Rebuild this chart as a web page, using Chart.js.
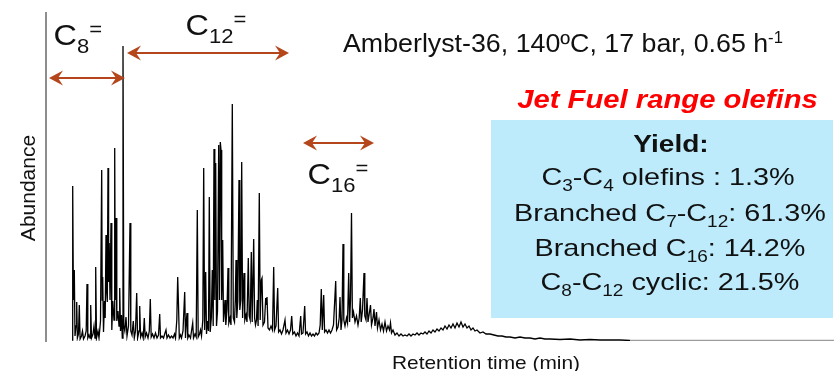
<!DOCTYPE html>
<html>
<head>
<meta charset="utf-8">
<script src="https://cdn.jsdelivr.net/npm/chart.js@4.4.1/dist/chart.umd.min.js"></script>
<style>
  html, body { margin: 0; padding: 0; background: #fff; }
  #wrap { width: 835px; height: 371px; }
</style>
</head>
<body>
<div id="wrap"><canvas id="gc" width="835" height="371"></canvas></div>
<script>
// GC-FID trace of the oligomerised olefin product (retention time in min, abundance in arbitrary counts)
const retentionTime = [
  2.50, 2.57, 2.64, 2.73, 2.80, 2.90, 2.97, 3.04, 3.15, 3.23, 3.31, 3.45, 3.55, 3.65, 3.80, 3.92, 4.00, 4.08, 4.20, 4.30,
  4.37, 4.45, 4.60, 4.70, 4.80, 4.87, 4.95, 5.10, 5.20, 5.35, 5.47, 5.52, 5.57, 5.65, 5.75, 5.82, 5.90, 5.96, 6.03, 6.10,
  6.16, 6.22, 6.30, 6.40, 6.48, 6.58, 6.70, 6.77, 6.83, 6.90, 6.98, 7.10, 7.20, 7.27, 7.35, 7.45, 7.53, 7.60, 7.68, 7.78,
  7.90, 8.00, 8.15, 8.30, 8.38, 8.50, 8.63, 8.73, 8.85, 8.97, 9.06, 9.20, 9.27, 9.36, 9.50, 9.62, 9.73, 9.82, 9.95, 10.10,
  10.23, 10.33, 10.42, 10.55, 10.70, 10.85, 11.00, 11.15, 11.27, 11.35, 11.50, 11.65, 11.80, 11.90, 12.00, 12.15, 12.30, 12.45, 12.60, 12.75,
  12.85, 12.98, 13.07, 13.15, 13.23, 13.35, 13.45, 13.60, 13.77, 13.85, 13.93, 14.00, 14.08, 14.20, 14.35, 14.45, 14.57, 14.65, 14.80, 14.92,
  15.03, 15.12, 15.25, 15.35, 15.45, 15.58, 15.67, 15.76, 15.87, 15.95, 16.05, 16.15, 16.23, 16.32, 16.43, 16.53, 16.62, 16.70, 16.78, 16.87,
  16.95, 17.05, 17.17, 17.25, 17.33, 17.40, 17.47, 17.57, 17.65, 17.80, 17.88, 18.00, 18.10, 18.18, 18.30, 18.40, 18.53, 18.63, 18.75, 18.83,
  18.90, 18.98, 19.08, 19.20, 19.28, 19.38, 19.47, 19.56, 19.63, 19.70, 19.78, 19.90, 20.00, 20.13, 20.22, 20.32, 20.43, 20.52, 20.67, 20.76,
  20.85, 20.95, 21.03, 21.11, 21.23, 21.32, 21.43, 21.50, 21.60, 21.75, 21.87, 21.94, 22.00, 22.10, 22.25, 22.40, 22.55, 22.67, 22.76, 22.90,
  23.07, 23.16, 23.30, 23.45, 23.60, 23.80, 23.90, 24.05, 24.20, 24.35, 24.47, 24.58, 24.75, 24.90, 25.05, 25.20, 25.37, 25.45, 25.60, 25.77,
  25.86, 26.00, 26.15, 26.30, 26.45, 26.60, 26.75, 26.90, 27.05, 27.20, 27.32, 27.43, 27.53, 27.67, 27.76, 27.90, 28.05, 28.20, 28.35, 28.50,
  28.65, 28.87, 28.96, 29.10, 29.22, 29.30, 29.40, 29.50, 29.60, 29.68, 29.80, 29.95, 30.05, 30.17, 30.26, 30.35, 30.45, 30.54, 30.65, 30.80,
  30.95, 31.10, 31.22, 31.33, 31.42, 31.55, 31.70, 31.78, 31.90, 32.00, 32.10, 32.25, 32.35, 32.45, 32.60, 32.70, 32.80, 32.95, 33.05, 33.20,
  33.35, 33.50, 33.65, 33.80, 33.95, 34.10, 34.25, 34.35, 34.45, 34.60, 34.80, 35.00, 35.20, 35.40, 35.60, 35.80, 36.00, 36.20, 36.40, 36.60,
  36.80, 37.00, 37.20, 37.40, 37.60, 37.80, 38.00, 38.20, 38.40, 38.60, 38.80, 39.00, 39.20, 39.40, 39.60, 39.80, 40.00, 40.20, 40.40, 40.60,
  40.80, 41.00, 41.20, 41.40, 41.60, 41.80, 42.00, 42.20, 42.40, 42.60, 42.80, 43.00, 43.30, 43.60, 43.90, 44.30, 44.70, 45.10, 45.50, 45.90,
  46.30, 46.80, 47.30, 47.80, 48.30, 48.80, 49.30, 49.80, 50.30, 51.30, 52.30, 53.30, 54.30, 55.30, 56.30, 57.30, 58.30
];
const abundance = [
  1, 155, 41, 71, 5, 15, 39, 3, 7, 36, 2, 5, 10, 2, 5, 10, 57, 3, 6, 3,
  36, 3, 7, 15, 3, 74, 3, 10, 3, 20, 171, 41, 64, 9, 40, 23, 106, 51, 39, 173,
  59, 98, 41, 118, 11, 40, 21, 193, 41, 123, 20, 30, 15, 53, 10, 26, 3, 295, 15, 10,
  24, 5, 15, 118, 10, 6, 20, 3, 10, 48, 3, 10, 35, 4, 8, 3, 23, 4, 8, 3,
  10, 42, 4, 7, 3, 8, 3, 6, 27, 3, 5, 3, 8, 11, 3, 6, 3, 5, 3, 7,
  3, 21, 64, 36, 3, 6, 3, 10, 49, 3, 20, 28, 3, 6, 3, 10, 18, 3, 7, 4,
  131, 4, 7, 11, 5, 21, 173, 11, 69, 7, 20, 10, 144, 9, 23, 71, 15, 192, 41, 178,
  15, 30, 196, 41, 199, 191, 41, 101, 19, 41, 16, 31, 73, 18, 23, 16, 237, 23, 19, 41,
  81, 23, 40, 161, 31, 41, 179, 23, 51, 68, 21, 26, 19, 83, 25, 21, 89, 19, 102, 23,
  16, 21, 41, 15, 148, 21, 61, 63, 16, 19, 43, 36, 44, 13, 11, 15, 11, 74, 11, 15,
  53, 9, 11, 7, 11, 21, 8, 11, 7, 11, 25, 7, 9, 5, 8, 5, 25, 7, 8, 35,
  7, 9, 5, 8, 5, 7, 5, 8, 6, 8, 16, 52, 11, 46, 9, 11, 8, 11, 8, 11,
  16, 60, 11, 14, 23, 44, 11, 21, 97, 21, 15, 23, 18, 68, 19, 41, 128, 23, 29, 19,
  25, 16, 23, 43, 19, 31, 68, 25, 21, 43, 19, 29, 36, 16, 23, 32, 15, 29, 13, 21,
  11, 17, 10, 19, 10, 15, 11, 18, 8, 11, 6, 8, 5, 7, 5, 6, 5, 7, 5, 7,
  6, 8, 6, 8, 7, 9, 7, 10, 8, 11, 9, 12, 10, 13, 11, 15, 12, 16, 13, 17,
  13, 18, 14, 19, 14, 17, 13, 15, 11, 13, 10, 11, 8, 9, 7, 7, 6, 5, 5, 4,
  4, 3, 4, 3, 3, 2, 3, 2, 2, 1.5, 2, 1, 1.5, 1, 1, 1, 0.5
];
// flat detector baseline at the end of the run
const tailTime = [58.30, 78.70];
const tailAbundance = [0.5, 0.5];

const FAMILY = '"Liberation Sans", Arial, Helvetica, sans-serif';
const ARROW_COLOR = '#B5451B';

// split "C_{3}-C_{4}" style strings into normal / subscript / superscript runs
function parseRuns(str) {
  const out = [];
  const re = /([_^])\{([^}]*)\}/g;
  let last = 0, m;
  while ((m = re.exec(str)) !== null) {
    if (m.index > last) out.push({ t: str.slice(last, m.index) });
    out.push({ t: m[2], sub: m[1] === '_', sup: m[1] === '^' });
    last = re.lastIndex;
  }
  if (last < str.length) out.push({ t: str.slice(last) });
  return out;
}

function drawRich(ctx, str, x, y, o) {
  const runs = parseRuns(str);
  const small = o.small || 0.66;
  const fontOf = r => `${o.style || 'normal'} ${o.weight || 'normal'} ${(r.sub || r.sup) ? o.size * small : o.size}px ${FAMILY}`;
  ctx.save();
  ctx.translate(x, y);
  if (o.rotate) ctx.rotate(o.rotate);
  ctx.scale(o.sx || 1, 1);
  ctx.fillStyle = o.color || '#111';
  ctx.textBaseline = 'alphabetic';
  ctx.textAlign = 'left';
  let total = 0;
  const widths = runs.map(r => { ctx.font = fontOf(r); const w = ctx.measureText(r.t).width; total += w; return w; });
  let cx = o.align === 'center' ? -total / 2 : 0;
  runs.forEach((r, i) => {
    ctx.font = fontOf(r);
    const dy = r.sub ? o.size * (o.subDy || 0.27) : r.sup ? -o.size * (o.supDy || 0.33) : 0;
    ctx.fillText(r.t, cx, dy);
    cx += widths[i];
  });
  ctx.restore();
}

function arrowHead(ctx, tipX, y, dir) {
  const L = 14, W = 7.5, N = 9;
  ctx.beginPath();
  ctx.moveTo(tipX, y);
  ctx.lineTo(tipX + dir * L, y - W);
  ctx.lineTo(tipX + dir * N, y);
  ctx.lineTo(tipX + dir * L, y + W);
  ctx.closePath();
  ctx.fill();
}

function doubleArrow(ctx, x1, x2, y) {
  ctx.save();
  ctx.strokeStyle = ARROW_COLOR;
  ctx.fillStyle = ARROW_COLOR;
  ctx.lineWidth = 2.2;
  ctx.beginPath();
  ctx.moveTo(x1 + 8, y);
  ctx.lineTo(x2 - 8, y);
  ctx.stroke();
  arrowHead(ctx, x1, y, 1);
  arrowHead(ctx, x2, y, -1);
  ctx.restore();
}

const annotations = {
  id: 'annotations',
  afterDraw(chart) {
    const ctx = chart.ctx;
    // carbon-number windows
    doubleArrow(ctx, 49, 125, 78);
    doubleArrow(ctx, 127, 289, 53);
    doubleArrow(ctx, 303, 374, 143);
    const cLab = { size: 30, sx: 1.08, small: 0.68, subDy: 0.27, supDy: 0.3 };
    drawRich(ctx, 'C_{8}^{=}', 53.5, 45, cLab);
    drawRich(ctx, 'C_{12}^{=}', 185.5, 35, cLab);
    drawRich(ctx, 'C_{16}^{=}', 307.5, 184, cLab);

    // reaction conditions
    drawRich(ctx, 'Amberlyst-36, 140ºC, 17 bar, 0.65 h^{-1}', 343, 52, { size: 26, sx: 1.03, small: 0.62, supDy: 0.36 });

    drawRich(ctx, 'Jet Fuel range olefins', 667.5, 108, { size: 26, sx: 1.125, weight: 'bold', style: 'italic', color: '#FF0000', align: 'center' });

    // yield box
    ctx.save();
    ctx.fillStyle = '#BDEBFB';
    ctx.fillRect(491, 120, 342, 198);
    ctx.restore();
    const yl = { size: 24, sx: 1.2, align: 'center', small: 0.66, subDy: 0.27 };
    drawRich(ctx, 'Yield:', 671, 152, { size: 24, sx: 1.17, weight: 'bold', align: 'center' });
    drawRich(ctx, 'C_{3}-C_{4} olefins : 1.3%', 668, 185, yl);
    drawRich(ctx, 'Branched C_{7}-C_{12}: 61.3%', 670, 221, yl);
    drawRich(ctx, 'Branched C_{16}: 14.2%', 670, 256, yl);
    drawRich(ctx, 'C_{8}-C_{12} cyclic: 21.5%', 670, 290, yl);

    // axis titles
    drawRich(ctx, 'Abundance', 35, 188, { size: 21, align: 'center', rotate: -Math.PI / 2 });
    drawRich(ctx, 'Retention time (min)', 486, 369, { size: 19, sx: 1.1, align: 'center' });
  }
};

new Chart(document.getElementById('gc'), {
  type: 'line',
  data: {
    datasets: [
      {
        label: 'Product',
        data: retentionTime.map((t, i) => ({ x: t, y: abundance[i] })),
        borderColor: '#000',
        borderWidth: 1.3,
        pointRadius: 0,
        tension: 0,
        fill: false
      },
      {
        label: 'Baseline',
        data: tailTime.map((t, i) => ({ x: t, y: tailAbundance[i] })),
        borderColor: '#9c9c9c',
        borderWidth: 1.6,
        pointRadius: 0,
        fill: false
      }
    ]
  },
  options: {
    responsive: false,
    animation: false,
    layout: { padding: { left: 46, right: 1, top: 13, bottom: 30 } },
    scales: {
      x: { type: 'linear', display: false, min: -0.1, max: 78.7 },
      y: {
        min: 0, max: 328,
        grid: { display: false, drawTicks: false },
        ticks: { display: false },
        border: { display: true, color: '#8e8e8e', width: 2 }
      }
    },
    plugins: { legend: { display: false }, tooltip: { enabled: false } }
  },
  plugins: [annotations]
});
</script>
</body>
</html>
